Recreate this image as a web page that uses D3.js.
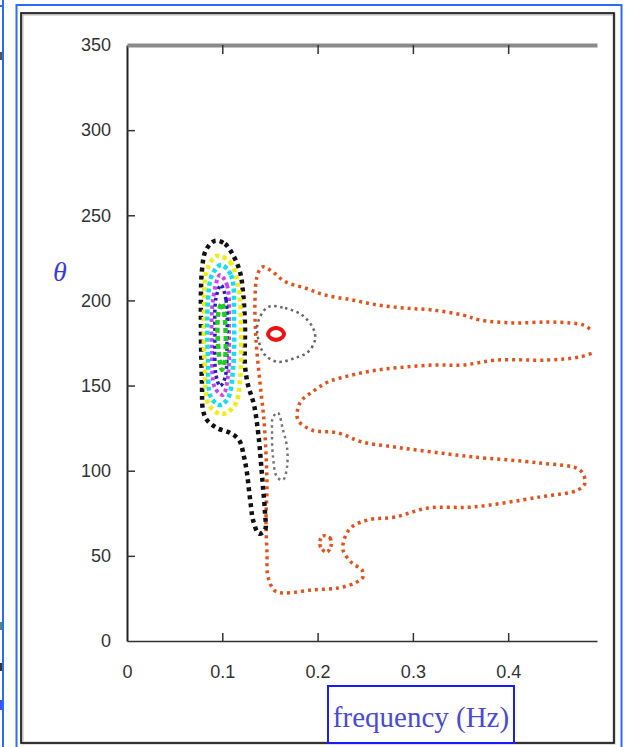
<!DOCTYPE html>
<html>
<head>
<meta charset="utf-8">
<script src="https://cdn.jsdelivr.net/npm/d3@7/dist/d3.min.js"></script>
<style>
  html, body { margin: 0; padding: 0; background: #fff; }
  svg { display: block; }
</style>
</head>
<body>
<svg id="chart" width="627" height="747"></svg>
<script>
// ---- data (frequency in Hz, theta in degrees) ----
const xTicks = [0, 0.1, 0.2, 0.3, 0.4];
const yTicks = [0, 50, 100, 150, 200, 250, 300, 350];
const xLabels = ["0", "0.1", "0.2", "0.3", "0.4"];
const yLabels = ["0", "50", "100", "150", "200", "250", "300", "350"];

const blackContour = [[0.0923,235.0],[0.1028,233.2],[0.1112,226.7],[0.1186,216.7],[0.1217,205.0],[0.1238,185.6],[0.1238,162.1],[0.1270,150.3],[0.1333,138.6],[0.1385,118.0],[0.1406,104.5],[0.1427,90.4],[0.1448,75.2],[0.1448,65.2],[0.1385,63.0],[0.1322,71.1],[0.1302,78.7],[0.1280,88.7],[0.1259,98.7],[0.1228,108.1],[0.1176,118.0],[0.1081,122.2],[0.0944,125.1],[0.0839,129.8],[0.0797,135.7],[0.0787,150.3],[0.0776,182.6],[0.0787,217.9],[0.0829,229.6]];
const yellowContour = [[0.0944,226.1],[0.1081,222.6],[0.1165,209.1],[0.1196,182.6],[0.1186,153.3],[0.1133,138.6],[0.0997,133.3],[0.0860,138.6],[0.0818,159.2],[0.0808,194.4],[0.0839,217.9]];
const cyanContour = [[0.0986,220.8],[0.1091,214.9],[0.1123,188.5],[0.1112,159.2],[0.1060,142.7],[0.0976,138.6],[0.0881,143.3],[0.0850,165.0],[0.0850,200.3],[0.0892,214.9]];
const magentaContour = [[0.0976,214.9],[0.1049,209.1],[0.1070,182.6],[0.1060,156.2],[0.1007,144.5],[0.0923,148.6],[0.0892,170.9],[0.0902,200.3]];
const blueContour = [[0.0986,209.1],[0.1039,200.3],[0.1049,176.8],[0.1028,154.5],[0.0976,149.8],[0.0934,156.2],[0.0923,179.7],[0.0934,201.4]];
const greenContour = [[0.0997,198.5],[0.1028,188.5],[0.1028,165.0],[0.0997,159.2],[0.0965,168.0],[0.0955,191.4]];
const grayRing = [[0.1480,196.1],[0.1658,195.5],[0.1836,191.4],[0.1952,183.8],[0.1973,176.8],[0.1899,169.7],[0.1763,166.2],[0.1584,163.9],[0.1448,168.0],[0.1375,177.9],[0.1375,187.3]];
const redPeak = [[0.1480,180.3],[0.1522,183.2],[0.1606,183.2],[0.1648,180.3],[0.1606,177.4],[0.1522,177.4]];
const grayStrip = [[0.1532,131.5],[0.1584,133.9],[0.1637,123.9],[0.1679,113.9],[0.1679,102.2],[0.1637,94.6],[0.1574,96.3],[0.1532,108.1],[0.1522,122.2]];
const orangeContour = [[0.4858,183.2],[0.4785,185.6],[0.4648,186.8],[0.4407,187.3],[0.4050,186.8],[0.3704,188.5],[0.3526,191.4],[0.3200,194.4],[0.2917,195.5],[0.2634,197.3],[0.2361,200.3],[0.2078,203.2],[0.1868,207.3],[0.1658,211.1],[0.1501,217.9],[0.1417,219.6],[0.1364,213.8],[0.1343,200.3],[0.1354,176.8],[0.1396,151.5],[0.1437,129.8],[0.1458,110.4],[0.1469,90.4],[0.1458,71.1],[0.1469,51.7],[0.1480,37.6],[0.1553,29.4],[0.1658,28.2],[0.1941,30.0],[0.2214,31.1],[0.2392,34.1],[0.2476,37.6],[0.2466,41.7],[0.2361,45.8],[0.2267,53.4],[0.2288,61.1],[0.2361,67.0],[0.2529,71.1],[0.2812,72.8],[0.3158,78.1],[0.3631,78.7],[0.4334,84.6],[0.4732,88.7],[0.4806,92.8],[0.4753,100.4],[0.4334,104.5],[0.3631,108.1],[0.3200,111.0],[0.2812,113.9],[0.2466,116.9],[0.2214,122.2],[0.1941,123.9],[0.1794,129.8],[0.1794,136.8],[0.1836,141.5],[0.1941,146.2],[0.2109,152.1],[0.2361,156.2],[0.2634,159.2],[0.2917,160.9],[0.3232,162.1],[0.3526,162.1],[0.3882,165.0],[0.4407,165.0],[0.4753,166.8],[0.4911,169.7]];
const orangeIsland = [[0.2057,61.7],[0.2130,60.5],[0.2141,55.8],[0.2099,52.3],[0.2036,54.6],[0.2025,58.7]];

// ---- build ----
const svg = d3.select("#chart");
const W = 627, H = 747;

// page frame
svg.append("rect").attr("x", 0).attr("y", 0).attr("width", W).attr("height", H).attr("fill", "#fff");
svg.append("line").attr("x1", 3).attr("x2", 3).attr("y1", 0).attr("y2", H).attr("stroke", "#2a6cff").attr("stroke-width", 2);
svg.append("line").attr("x1", 0).attr("x2", 4).attr("y1", 6).attr("y2", 6).attr("stroke", "#2a6cff").attr("stroke-width", 2);
svg.append("rect").attr("x", 0).attr("y", 52).attr("width", 2).attr("height", 8).attr("fill", "#555");
svg.append("rect").attr("x", 0).attr("y", 622).attr("width", 2).attr("height", 8).attr("fill", "#4a8a7a");
svg.append("rect").attr("x", 0).attr("y", 663).attr("width", 2).attr("height", 8).attr("fill", "#333");
svg.append("rect").attr("x", 0).attr("y", 700).attr("width", 2).attr("height", 10).attr("fill", "#3355ff");
svg.append("rect").attr("x", 16.5).attr("y", 5).attr("width", 605).attr("height", 745)
  .attr("fill", "none").attr("stroke", "#2a6cff").attr("stroke-width", 2);
svg.append("rect").attr("x", 22).attr("y", 14).attr("width", 592).attr("height", 729)
  .attr("fill", "none").attr("stroke", "#bbb").attr("stroke-width", 3);
svg.append("rect").attr("x", 21).attr("y", 13).attr("width", 593).attr("height", 730)
  .attr("fill", "none").attr("stroke", "#111").attr("stroke-width", 1.6);

const x = d3.scaleLinear().domain([0, 0.4932]).range([127, 597]);
const y = d3.scaleLinear().domain([0, 350]).range([641, 45]);

// axes
const fontTick = "'Liberation Sans', Arial, sans-serif";
const yAxis = d3.axisLeft(y).tickValues(yTicks).tickSizeInner(-8).tickSizeOuter(0).tickPadding(16)
  .tickFormat((d, i) => yLabels[i]);
const gy = svg.append("g").attr("transform", "translate(127,0)").call(yAxis);
gy.select(".domain").attr("stroke", "#222").attr("stroke-width", 2);
gy.selectAll(".tick line").attr("stroke", "#333").attr("stroke-width", 1.5);
gy.selectAll(".tick").filter(d => d === 0 || d === 350).select("line").remove();
gy.selectAll("text").attr("font-family", fontTick).attr("font-size", 18).attr("fill", "#333");

const xAxis = d3.axisBottom(x).tickValues(xTicks).tickSizeInner(-8).tickSizeOuter(0).tickPadding(24)
  .tickFormat((d, i) => xLabels[i]);
const gx = svg.append("g").attr("transform", "translate(0,641)").call(xAxis);
gx.select(".domain").attr("stroke", "#333").attr("stroke-width", 1.5);
gx.selectAll(".tick line").attr("stroke", "#333").attr("stroke-width", 1.5);
gx.selectAll(".tick").filter(d => d === 0).select("line").remove();
gx.selectAll("text").attr("font-family", fontTick).attr("font-size", 18).attr("fill", "#333");

// top border with ticks
const xTop = d3.axisTop(x).tickValues(xTicks.filter(d => d > 0)).tickSizeInner(-9).tickSizeOuter(0).tickFormat("");
const gt = svg.append("g").attr("transform", "translate(0,45)").call(xTop);
gt.select(".domain").attr("stroke", "#8a8a8a").attr("stroke-width", 4);
gt.selectAll(".tick line").attr("stroke", "#333").attr("stroke-width", 1.5);

// contours
const closedLine = d3.line().x(d => x(d[0])).y(d => y(d[1])).curve(d3.curveCatmullRomClosed.alpha(0.5));
const openLine = d3.line().x(d => x(d[0])).y(d => y(d[1])).curve(d3.curveCatmullRom.alpha(0.5));

const layers = [
  { pts: orangeContour, closed: false, color: "#e4521b", w: 3.5, dash: "3,4" },
  { pts: orangeIsland, closed: true, color: "#e4521b", w: 3.5, dash: "3,3" },
  { pts: grayRing, closed: true, color: "#666670", w: 2.5, dash: "2.5,3.5" },
  { pts: grayStrip, closed: true, color: "#74747a", w: 2.5, dash: "2.5,3.5" },
  { pts: blackContour, closed: true, color: "#111", w: 4.5, dash: "4,4" },
  { pts: yellowContour, closed: true, color: "#f0ee10", w: 4.5, dash: "4,3.5" },
  { pts: cyanContour, closed: true, color: "#10e0f0", w: 4.5, dash: "4,3" },
  { pts: magentaContour, closed: true, color: "#cc44ee", w: 4, dash: "3.5,3" },
  { pts: blueContour, closed: true, color: "#2222bb", w: 3.5, dash: "3,3" },
  { pts: greenContour, closed: true, color: "#22cc22", w: 4.5, dash: "5,3" },
  { pts: redPeak, closed: true, color: "#ee1111", w: 4, dash: null }
];
layers.forEach(l => {
  const p = svg.append("path")
    .attr("d", (l.closed ? closedLine : openLine)(l.pts))
    .attr("fill", "none").attr("stroke", l.color).attr("stroke-width", l.w);
  if (l.dash) p.attr("stroke-dasharray", l.dash);
});

// axis titles
svg.append("text").attr("x", 60).attr("y", 281).attr("text-anchor", "middle")
  .attr("font-family", "'Liberation Serif', 'Times New Roman', serif").attr("font-style", "italic")
  .attr("font-size", 28).attr("fill", "#3a3ae0").text("θ");

svg.append("rect").attr("x", 328).attr("y", 686).attr("width", 186).attr("height", 57)
  .attr("fill", "#fff").attr("stroke", "#1a1aff").attr("stroke-width", 2);
svg.append("text").attr("x", 421).attr("y", 727).attr("text-anchor", "middle")
  .attr("font-family", "'Liberation Serif', 'Times New Roman', serif")
  .attr("font-size", 29).attr("fill", "#4a4ad8").text("frequency (Hz)");
</script>
</body>
</html>
